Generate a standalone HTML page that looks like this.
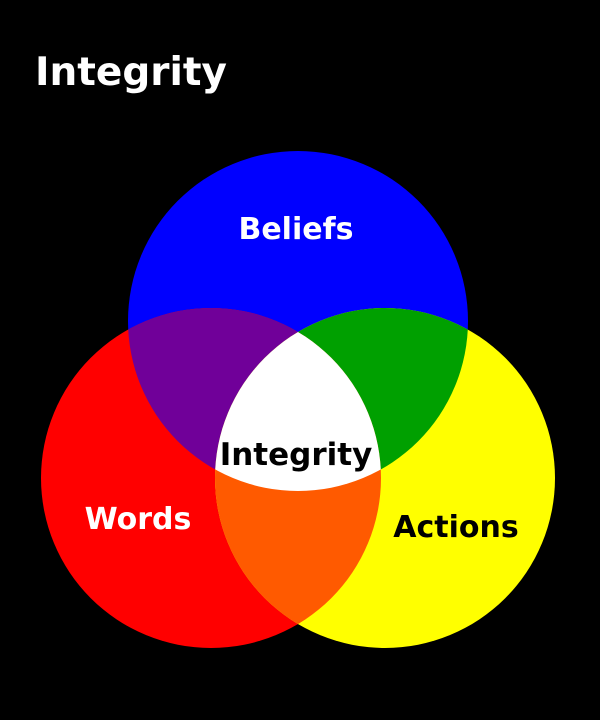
<!DOCTYPE html>
<html><head><meta charset="utf-8"><style>
html,body{margin:0;padding:0;background:#000;}
svg{display:block;}
text{font-family:"DejaVu Sans","Liberation Sans",sans-serif;font-weight:bold;}
</style></head><body>
<svg width="600" height="720" viewBox="0 0 600 720" xmlns="http://www.w3.org/2000/svg">
<defs>
<clipPath id="cb"><circle cx="298" cy="321" r="170"/></clipPath>
<clipPath id="cr"><circle cx="211" cy="478" r="170"/></clipPath>
</defs>
<rect width="600" height="720" fill="#000"/>
<circle cx="298" cy="321" r="170" fill="#0000ff"/>
<circle cx="211" cy="478" r="170" fill="#ff0000"/>
<circle cx="385" cy="478" r="170" fill="#ffff00"/>
<g clip-path="url(#cb)"><circle cx="211" cy="478" r="170" fill="#700099"/><circle cx="385" cy="478" r="170" fill="#00a000"/></g>
<g clip-path="url(#cr)"><circle cx="385" cy="478" r="170" fill="#ff5a00"/></g>
<g clip-path="url(#cb)"><g clip-path="url(#cr)"><circle cx="385" cy="478" r="170" fill="#ffffff"/></g></g>
<text x="35" y="85" font-size="39" fill="#fff">Integrity</text>
<text x="296" y="239" font-size="30" fill="#fff" text-anchor="middle">Beliefs</text>
<text x="138" y="529" font-size="30" fill="#fff" text-anchor="middle">Words</text>
<text x="456" y="537" font-size="30" fill="#000" text-anchor="middle">Actions</text>
<text x="296" y="465" font-size="31" fill="#000" text-anchor="middle">Integrity</text>
</svg>
</body></html>
